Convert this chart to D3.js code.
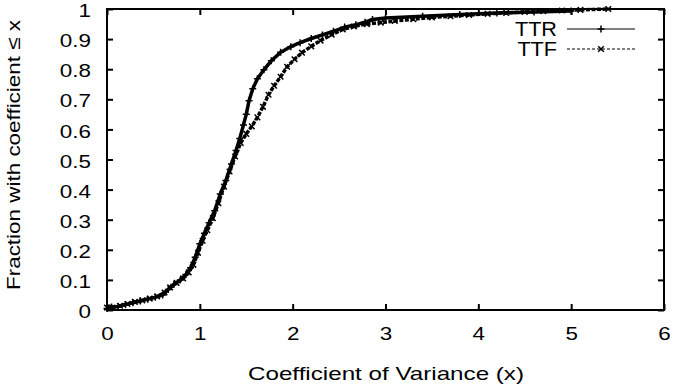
<!DOCTYPE html>
<html lang='en'>

<head>
    <meta charset='UTF-8'>
    <title>Coefficient of Variance CDF</title>
    <script src='https://d3js.org/d3.v7.min.js' charset='utf-8'></script>
    <style>
        body {
            margin: 0px;
            background: white;
            overflow: hidden;
        }

        svg text {
            font-family: 'Liberation Sans', Arial, sans-serif;
            fill: black;
        }
    </style>
</head>

<body>
    <div id='chart'></div>
    <script>
        'use strict';

        // CDF samples
        const ttrX = [0.00, 0.05, 0.12, 0.20, 0.28, 0.36, 0.44, 0.52, 0.60, 0.66, 0.72, 0.79, 0.85, 0.90, 0.95, 1.00,
            1.05, 1.10, 1.16, 1.22, 1.28, 1.34, 1.39, 1.43, 1.47, 1.50, 1.53, 1.57, 1.62, 1.69, 1.77, 1.87, 1.98,
            2.08, 2.20, 2.32, 2.44, 2.56, 2.68, 2.78, 2.86, 3.00, 3.40, 3.80, 4.20, 4.60, 5.00];
        const ttrY = [0.005, 0.010, 0.012, 0.018, 0.024, 0.030, 0.036, 0.042, 0.050, 0.068, 0.085, 0.100, 0.118, 0.140,
            0.175, 0.220, 0.255, 0.290, 0.330, 0.385, 0.430, 0.485, 0.530, 0.570, 0.615, 0.650, 0.695, 0.735, 0.768,
            0.798, 0.828, 0.856, 0.875, 0.888, 0.902, 0.914, 0.926, 0.940, 0.948, 0.956, 0.965, 0.970, 0.976, 0.982,
            0.987, 0.990, 0.993];

        const ttfX = [0.00, 0.06, 0.14, 0.22, 0.30, 0.38, 0.46, 0.54, 0.62, 0.68, 0.75, 0.82, 0.88, 0.93, 0.98, 1.03,
            1.08, 1.14, 1.20, 1.26, 1.32, 1.38, 1.44, 1.50, 1.56, 1.62, 1.68, 1.74, 1.80, 1.87, 1.94, 2.02, 2.10,
            2.20, 2.30, 2.42, 2.54, 2.66, 2.80, 2.95, 3.10, 3.30, 3.50, 3.70, 3.90, 4.10, 4.30, 4.50, 4.70, 4.90,
            5.10, 5.40];
        const ttfY = [0.008, 0.008, 0.014, 0.020, 0.027, 0.032, 0.038, 0.045, 0.058, 0.075, 0.090, 0.105, 0.125, 0.150,
            0.190, 0.230, 0.265, 0.305, 0.355, 0.410, 0.460, 0.510, 0.555, 0.585, 0.610, 0.640, 0.675, 0.715, 0.745,
            0.775, 0.808, 0.833, 0.855, 0.876, 0.895, 0.915, 0.932, 0.942, 0.950, 0.955, 0.960, 0.966, 0.972, 0.976,
            0.980, 0.984, 0.987, 0.990, 0.993, 0.995, 0.997, 1.000];

        const xTicks = [0, 1, 2, 3, 4, 5, 6];
        const yTicks = [0, 0.1, 0.2, 0.3, 0.4, 0.5, 0.6, 0.7, 0.8, 0.9, 1];
        const seriesNames = ['TTR', 'TTF'];

        const W = 673, H = 384;
        const plotL = 107, plotR = 664, plotT = 9, plotB = 310;
        const stretch = 1.18; // the original's lettering is a bit wider than Liberation Sans

        const svg = d3.select('#chart')
            .append('svg')
            .attr('width', W)
            .attr('height', H);

        const x = d3.scaleLinear().domain([0, 6]).range([plotL, plotR]);
        const y = d3.scaleLinear().domain([0, 1]).range([plotB, plotT]);

        function widen(sel, k) {
            sel.each(function () {
                const len = this.getComputedTextLength();
                d3.select(this)
                    .attr('textLength', len * k)
                    .attr('lengthAdjust', 'spacingAndGlyphs');
            });
        }

        function styleAxis(g) {
            g.select('.domain').remove();
            g.selectAll('.tick line').attr('stroke', 'black').attr('stroke-width', 2);
            g.selectAll('.tick text').attr('font-size', 19).call(widen, stretch);
        }

        svg.append('g')
            .attr('transform', `translate(0, ${plotB})`)
            .call(d3.axisBottom(x).tickValues(xTicks).tickSize(-6).tickPadding(17).tickFormat(d3.format('d')))
            .call(styleAxis);
        svg.append('g')
            .attr('transform', `translate(0, ${plotT})`)
            .call(d3.axisTop(x).tickValues(xTicks).tickSize(-6).tickFormat(''))
            .call(styleAxis);
        svg.append('g')
            .attr('transform', `translate(${plotL}, 0)`)
            .call(d3.axisLeft(y).tickValues(yTicks).tickSize(-6).tickPadding(16).tickFormat(d => String(+d.toFixed(1))))
            .call(styleAxis)
            .selectAll('.tick text').attr('dy', '0.4em');
        svg.append('g')
            .attr('transform', `translate(${plotR}, 0)`)
            .call(d3.axisRight(y).tickValues(yTicks).tickSize(-6).tickFormat(''))
            .call(styleAxis);

        svg.append('rect')
            .attr('x', plotL).attr('y', plotT)
            .attr('width', plotR - plotL).attr('height', plotB - plotT)
            .attr('fill', 'none')
            .attr('stroke', 'black')
            .attr('stroke-width', 2);

        const plus = 'M-3.5,0H3.5M0,-3.5V3.5';
        const cross = 'M-2.8,-2.8L2.8,2.8M-2.8,2.8L2.8,-2.8';

        const series = [
            { name: seriesNames[0], xs: ttrX, ys: ttrY, dash: null, marker: plus },
            { name: seriesNames[1], xs: ttfX, ys: ttfY, dash: '4,1.5', marker: cross },
        ];

        const line = d3.line().x(d => x(d[0])).y(d => y(d[1]));

        series.forEach(s => {
            const pts = s.xs.map((v, i) => [v, s.ys[i]]);
            svg.append('path')
                .datum(pts)
                .attr('d', line)
                .attr('fill', 'none')
                .attr('stroke', 'black')
                .attr('stroke-width', 3.5)
                .attr('stroke-dasharray', s.dash);
            svg.append('g')
                .selectAll('path')
                .data(pts)
                .enter()
                .append('path')
                .attr('transform', d => `translate(${x(d[0])}, ${y(d[1])})`)
                .attr('d', s.marker)
                .attr('stroke', 'black')
                .attr('stroke-width', 1.5);
        });

        // legend
        const legend = svg.append('g');
        series.forEach((s, i) => {
            const ly = 29 + i * 20;
            legend.append('text')
                .attr('x', 557)
                .attr('y', ly)
                .attr('dy', '0.36em')
                .attr('text-anchor', 'end')
                .attr('font-size', 20)
                .text(s.name)
                .call(widen, 1.08);
            legend.append('line')
                .attr('x1', 567).attr('x2', 635)
                .attr('y1', ly).attr('y2', ly)
                .attr('stroke', 'black')
                .attr('stroke-width', 1)
                .attr('stroke-dasharray', s.dash ? '3,2' : null);
            legend.append('path')
                .attr('transform', `translate(601, ${ly})`)
                .attr('d', s.marker)
                .attr('stroke', 'black')
                .attr('stroke-width', 1.5);
        });

        // axis titles
        svg.append('text')
            .attr('x', 386)
            .attr('y', 380)
            .attr('text-anchor', 'middle')
            .attr('font-size', 19)
            .attr('textLength', 276)
            .attr('lengthAdjust', 'spacingAndGlyphs')
            .text('Coefficient of Variance (x)');
        svg.append('text')
            .attr('transform', 'translate(20, 155) rotate(-90)')
            .attr('text-anchor', 'middle')
            .attr('font-size', 19)
            .attr('textLength', 270)
            .attr('lengthAdjust', 'spacingAndGlyphs')
            .text('Fraction with coefficient \u2264 x');
    </script>
</body>

</html>
